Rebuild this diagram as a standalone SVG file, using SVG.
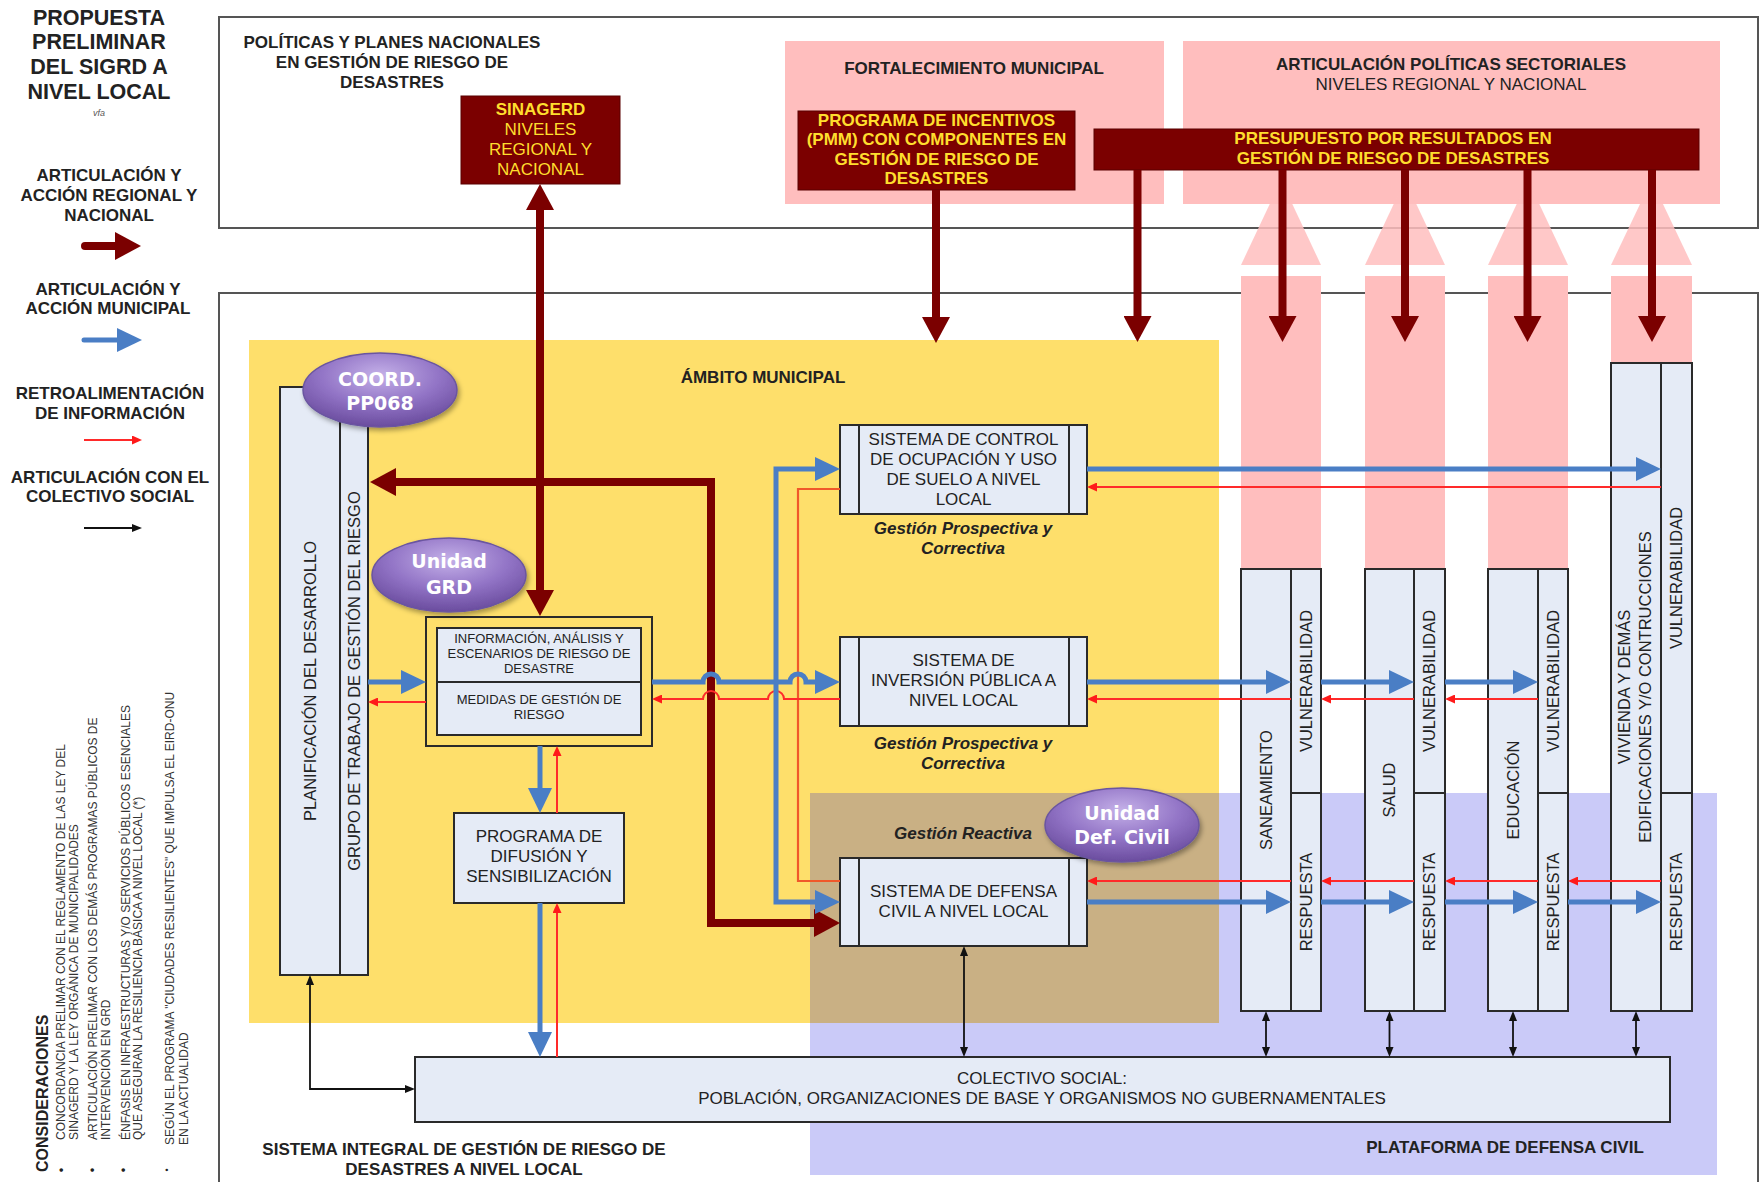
<svg xmlns="http://www.w3.org/2000/svg" width="1761" height="1182" viewBox="0 0 1761 1182">
<style>
.t{font-family:"Liberation Sans",Arial,sans-serif;fill:#222}
.b{font-weight:bold}
.bi{font-weight:bold;font-style:italic}
.c{text-anchor:middle}
.f17{font-size:17px}
.f16{font-size:16.5px}
.f13{font-size:13px}
.f12{font-size:12px}
.yt{fill:#FFDE2E}
.box{fill:#E5EBF6;stroke:#2a2a2a;stroke-width:2}
.ln{stroke:#2a2a2a;stroke-width:2;fill:none}
.drbox{fill:#7B0000;stroke:#5a0000;stroke-width:1}
.pink{fill:#FFBEBE}
.ell{fill:url(#gPur);stroke:#6A55A0;stroke-width:1.5;filter:url(#sh)}
.et{font-family:"DejaVu Sans","Liberation Sans",sans-serif;font-weight:bold;font-size:19px;fill:#fff;text-anchor:middle}
.cdr{stroke:#7B0000;stroke-width:8;fill:none;stroke-linejoin:miter}
.cbl{stroke:#4A7EC5;stroke-width:5;fill:none}
.crd{stroke:#FF2A2A;stroke-width:2;fill:none}
.cor{stroke:#F0582A;stroke-width:2.2;fill:none}
.cbk{stroke:#111;stroke-width:1.8;fill:none}
</style>
<defs>
<radialGradient id="gPur" cx="50%" cy="30%" r="70%">
<stop offset="0" stop-color="#C4B0E8"/>
<stop offset="0.55" stop-color="#9274C6"/>
<stop offset="1" stop-color="#6A4C9E"/>
</radialGradient>
<filter id="sh" x="-20%" y="-20%" width="140%" height="150%">
<feDropShadow dx="2" dy="3" stdDeviation="2.5" flood-color="#000" flood-opacity="0.35"/>
</filter>
<marker id="mDR" markerUnits="userSpaceOnUse" markerWidth="26" markerHeight="28" viewBox="0 0 26 28" refX="4" refY="14" orient="auto-start-reverse"><path d="M0,0 L26,14 L0,28 Z" fill="#7B0000"/></marker>
<marker id="mBL" markerUnits="userSpaceOnUse" markerWidth="25" markerHeight="24" viewBox="0 0 25 24" refX="4" refY="12" orient="auto-start-reverse"><path d="M0,0 L25,12 L0,24 Z" fill="#4A7EC5"/></marker>
<marker id="mRD" markerUnits="userSpaceOnUse" markerWidth="10" markerHeight="9" viewBox="0 0 10 9" refX="2" refY="4.5" orient="auto-start-reverse"><path d="M0,0 L10,4.5 L0,9 Z" fill="#FF1A1A"/></marker>
<marker id="mBK" markerUnits="userSpaceOnUse" markerWidth="10" markerHeight="8" viewBox="0 0 10 8" refX="2" refY="4" orient="auto-start-reverse"><path d="M0,0 L10,4 L0,8 Z" fill="#111"/></marker>
</defs>

<rect width="1761" height="1182" fill="#fff"/>

<!-- title -->
<g id="title" class="t b c">
<text x="99" y="25" font-size="21.5">PROPUESTA</text>
<text x="99" y="49" font-size="21.5">PRELIMINAR</text>
<text x="99" y="74" font-size="21.5">DEL SIGRD A</text>
<text x="99" y="99" font-size="21.5">NIVEL LOCAL</text>
<text x="99" y="116" font-size="9" font-weight="normal" font-style="italic" fill="#555">vfa</text>
</g>

<!-- legend -->
<g id="legend">
<g class="t b c f17">
<text x="109" y="181">ARTICULACIÓN Y</text>
<text x="109" y="201">ACCIÓN REGIONAL Y</text>
<text x="109" y="221">NACIONAL</text>
<text x="108" y="294.5">ARTICULACIÓN Y</text>
<text x="108" y="314">ACCIÓN MUNICIPAL</text>
<text x="110" y="399">RETROALIMENTACIÓN</text>
<text x="110" y="419">DE INFORMACIÓN</text>
<text x="110" y="483">ARTICULACIÓN CON EL</text>
<text x="110" y="502">COLECTIVO SOCIAL</text>
</g>
<path d="M85,246 H119" class="cdr" stroke-width="9" stroke-linecap="round" marker-end="url(#mDR)"/>
<path d="M84,340 H121" class="cbl" stroke-linecap="round" marker-end="url(#mBL)"/>
<path d="M84,440 H134" class="crd" marker-end="url(#mRD)"/>
<path d="M84,528 H134" class="cbk" marker-end="url(#mBK)"/>
</g>

<!-- considerations -->
<g id="consideraciones" class="t">
<text transform="translate(47.5 1172) rotate(-90)" class="b" font-size="16">CONSIDERACIONES</text>
<g class="f12" fill="#333">
<text transform="translate(65 1140) rotate(-90)">CONCORDANCIA PRELIMAR CON EL REGLAMENTO DE LAS LEY DEL</text>
<text transform="translate(78 1140) rotate(-90)">SINAGERD Y LA LEY ORGÁNICA DE MUNICIPALIDADES</text>
<text transform="translate(97 1140) rotate(-90)">ARTICULACIÓN PRELIMAR CON LOS DEMÁS PROGRAMAS PÚBLICOS DE</text>
<text transform="translate(110 1140) rotate(-90)">INTERVENCIÓN EN GRD</text>
<text transform="translate(129.5 1140) rotate(-90)">ÉNFASIS EN INFRAESTRUCTURAS Y/O SERVICIOS PÚBLICOS ESENCIALES</text>
<text transform="translate(142 1140) rotate(-90)">QUE ASEGURAN LA RESILIENCIA BÁSICA A NIVEL LOCAL (*)</text>
<text transform="translate(174 1145) rotate(-90)">SEGÚN EL PROGRAMA "CIUDADES RESILIENTES" QUE IMPULSA EL EIRD-ONU</text>
<text transform="translate(187.5 1145) rotate(-90)">EN LA ACTUALIDAD</text>
</g>
<g font-size="13" fill="#222" class="c">
<text transform="translate(66 1170) rotate(-90)">•</text>
<text transform="translate(97 1170) rotate(-90)">•</text>
<text transform="translate(128 1170) rotate(-90)">•</text>
<text transform="translate(170 1170) rotate(-90)" font-size="9">•</text>
</g>
</g>

<!-- national level frame -->
<g id="n-politicas">
<rect x="219" y="17" width="1539" height="211" fill="#fff" stroke="#555" stroke-width="2"/>
<g class="t b c f17">
<text x="392" y="48">POLÍTICAS Y PLANES NACIONALES</text>
<text x="392" y="68">EN GESTIÓN DE RIESGO DE</text>
<text x="392" y="87.5">DESASTRES</text>
</g>
</g>

<!-- local level frame -->
<g id="n-sistema-local">
<rect x="219" y="293" width="1539" height="910" fill="#fff" stroke="#555" stroke-width="2"/>
<g class="t b c f17">
<text x="464" y="1155">SISTEMA INTEGRAL DE GESTIÓN DE RIESGO DE</text>
<text x="464" y="1175">DESASTRES A NIVEL LOCAL</text>
</g>
</g>

<g id="n-fortalecimiento">
<rect x="785" y="41" width="379" height="163" class="pink"/>
<text x="974" y="74" class="t b c f17">FORTALECIMIENTO MUNICIPAL</text>
</g>

<g id="n-articulacion-sectorial">
<rect x="1183" y="41" width="537" height="163" class="pink"/>
<text x="1451" y="70" class="t b c f17">ARTICULACIÓN POLÍTICAS SECTORIALES</text>
<text x="1451" y="90" class="t c f17">NIVELES REGIONAL Y NACIONAL</text>
</g>

<!-- large pink sector arrows -->
<g id="sector-arrows" fill="#FFBEBE">
<polygon points="1241,265 1321,265 1281,180" fill-opacity="0.85"/>
<polygon points="1365,265 1445,265 1405,180" fill-opacity="0.85"/>
<polygon points="1488,265 1568,265 1528,180" fill-opacity="0.85"/>
<polygon points="1611,265 1692,265 1651.5,180" fill-opacity="0.85"/>
<rect x="1241" y="276" width="80" height="293"/>
<rect x="1365" y="276" width="80" height="293"/>
<rect x="1488" y="276" width="80" height="293"/>
<rect x="1611" y="276" width="81" height="87"/>
</g>

<g id="n-plataforma">
<rect x="810" y="793" width="907" height="382" fill="#CACAF8"/>
<text x="1505" y="1153" class="t b c f17">PLATAFORMA DE DEFENSA CIVIL</text>
</g>

<g id="n-ambito">
<rect x="249" y="340" width="970" height="683" fill="#FEDF6B"/>
<rect x="810" y="793" width="409" height="230" fill="#C9B084"/>
<text x="763" y="383" class="t b c f17">ÁMBITO MUNICIPAL</text>
<text x="963" y="839" class="t bi c f17">Gestión Reactiva</text>
</g>

<g id="n-sinagerd">
<rect x="461" y="96" width="159" height="88" class="drbox"/>
<g class="t c f17">
<text x="540.5" y="115" class="b yt">SINAGERD</text>
<text x="540.5" y="135" class="yt">NIVELES</text>
<text x="540.5" y="155" class="yt">REGIONAL Y</text>
<text x="540.5" y="175" class="yt">NACIONAL</text>
</g>
</g>

<g id="n-pmm">
<rect x="798" y="111" width="277" height="79" class="drbox"/>
<g class="t b c f17 yt">
<text x="936.5" y="125.5" class="yt">PROGRAMA DE INCENTIVOS</text>
<text x="936.5" y="145" class="yt">(PMM) CON COMPONENTES EN</text>
<text x="936.5" y="164.5" class="yt">GESTIÓN DE RIESGO DE</text>
<text x="936.5" y="184" class="yt">DESASTRES</text>
</g>
</g>

<g id="n-presupuesto">
<rect x="1094" y="129" width="605" height="41" class="drbox"/>
<g class="t b c f17">
<text x="1393" y="144" class="yt">PRESUPUESTO POR RESULTADOS EN</text>
<text x="1393" y="164" class="yt">GESTIÓN DE RIESGO DE DESASTRES</text>
</g>
</g>

<g id="n-planificacion">
<rect x="280" y="387" width="88" height="588" class="box"/>
<line x1="340" y1="387" x2="340" y2="975" class="ln"/>
<text transform="translate(310 681) rotate(-90)" dy="0.36em" class="t c f16">PLANIFICACIÓN DEL DESARROLLO</text>
<text transform="translate(354 681) rotate(-90)" dy="0.36em" class="t c f16">GRUPO DE TRABAJO DE GESTIÓN DEL RIESGO</text>
</g>

<g id="n-info">
<rect x="426" y="617" width="226" height="129" fill="none" stroke="#2a2a2a" stroke-width="2"/>
<rect x="437" y="628" width="204" height="107" class="box"/>
<line x1="437" y1="682" x2="641" y2="682" class="ln"/>
<g class="t c f13" fill="#333">
<text x="539" y="643">INFORMACIÓN,  ANÁLISIS Y</text>
<text x="539" y="658">ESCENARIOS DE RIESGO DE</text>
<text x="539" y="673">DESASTRE</text>
<text x="539" y="704">MEDIDAS DE GESTIÓN DE</text>
<text x="539" y="719">RIESGO</text>
</g>
</g>

<g id="n-programa">
<rect x="454" y="813" width="170" height="90" class="box"/>
<g class="t c f17">
<text x="539" y="842">PROGRAMA DE</text>
<text x="539" y="862">DIFUSIÓN Y</text>
<text x="539" y="882">SENSIBILIZACIÓN</text>
</g>
</g>

<g id="n-control">
<rect x="840" y="425" width="247" height="89" class="box"/>
<line x1="859" y1="425" x2="859" y2="514" class="ln"/>
<line x1="1069" y1="425" x2="1069" y2="514" class="ln"/>
<g class="t c f17">
<text x="963.5" y="444.5">SISTEMA DE CONTROL</text>
<text x="963.5" y="464.5">DE OCUPACIÓN Y USO</text>
<text x="963.5" y="484.5">DE SUELO A NIVEL</text>
<text x="963.5" y="504.5">LOCAL</text>
</g>
<text x="963" y="534" class="t bi c f17">Gestión Prospectiva y</text>
<text x="963" y="554" class="t bi c f17">Correctiva</text>
</g>

<g id="n-inversion">
<rect x="840" y="637" width="247" height="89" class="box"/>
<line x1="859" y1="637" x2="859" y2="726" class="ln"/>
<line x1="1069" y1="637" x2="1069" y2="726" class="ln"/>
<g class="t c f17">
<text x="963.5" y="666">SISTEMA DE</text>
<text x="963.5" y="686">INVERSIÓN PÚBLICA A</text>
<text x="963.5" y="706">NIVEL LOCAL</text>
</g>
<text x="963" y="749" class="t bi c f17">Gestión Prospectiva y</text>
<text x="963" y="769" class="t bi c f17">Correctiva</text>
</g>

<g id="n-defensa">
<rect x="840" y="858" width="247" height="88" class="box"/>
<line x1="859" y1="858" x2="859" y2="946" class="ln"/>
<line x1="1069" y1="858" x2="1069" y2="946" class="ln"/>
<g class="t c f17">
<text x="963.5" y="897">SISTEMA DE DEFENSA</text>
<text x="963.5" y="917">CIVIL A NIVEL LOCAL</text>
</g>
</g>

<g id="n-saneamiento">
<rect x="1241" y="569" width="80" height="442" class="box"/>
<line x1="1291" y1="569" x2="1291" y2="1011" class="ln"/>
<line x1="1291" y1="793" x2="1321" y2="793" class="ln"/>
<text transform="translate(1266 790) rotate(-90)" dy="0.36em" class="t c f16">SANEAMIENTO</text>
<text transform="translate(1306 681) rotate(-90)" dy="0.36em" class="t c f16">VULNERABILIDAD</text>
<text transform="translate(1306 902) rotate(-90)" dy="0.36em" class="t c f16">RESPUESTA</text>
</g>

<g id="n-salud">
<rect x="1365" y="569" width="80" height="442" class="box"/>
<line x1="1414" y1="569" x2="1414" y2="1011" class="ln"/>
<line x1="1414" y1="793" x2="1445" y2="793" class="ln"/>
<text transform="translate(1389.5 790) rotate(-90)" dy="0.36em" class="t c f16">SALUD</text>
<text transform="translate(1429.5 681) rotate(-90)" dy="0.36em" class="t c f16">VULNERABILIDAD</text>
<text transform="translate(1429.5 902) rotate(-90)" dy="0.36em" class="t c f16">RESPUESTA</text>
</g>

<g id="n-educacion">
<rect x="1488" y="569" width="80" height="442" class="box"/>
<line x1="1538" y1="569" x2="1538" y2="1011" class="ln"/>
<line x1="1538" y1="793" x2="1568" y2="793" class="ln"/>
<text transform="translate(1513 790) rotate(-90)" dy="0.36em" class="t c f16">EDUCACIÓN</text>
<text transform="translate(1553 681) rotate(-90)" dy="0.36em" class="t c f16">VULNERABILIDAD</text>
<text transform="translate(1553 902) rotate(-90)" dy="0.36em" class="t c f16">RESPUESTA</text>
</g>

<g id="n-vivienda">
<rect x="1611" y="363" width="81" height="648" class="box"/>
<line x1="1661" y1="363" x2="1661" y2="1011" class="ln"/>
<line x1="1661" y1="793" x2="1692" y2="793" class="ln"/>
<text transform="translate(1629.5 687) rotate(-90)" class="t c f16">VIVIENDA Y DEMÁS</text>
<text transform="translate(1651 687) rotate(-90)" class="t c f16">EDIFICACIONES Y/O CONTRUCCIONES</text>
<text transform="translate(1676.5 578) rotate(-90)" dy="0.36em" class="t c f16">VULNERABILIDAD</text>
<text transform="translate(1676.5 902) rotate(-90)" dy="0.36em" class="t c f16">RESPUESTA</text>
</g>

<g id="n-colectivo">
<rect x="415" y="1057" width="1255" height="65" class="box"/>
<g class="t c f17">
<text x="1042" y="1084">COLECTIVO SOCIAL:</text>
<text x="1042" y="1104">POBLACIÓN, ORGANIZACIONES DE BASE Y ORGANISMOS NO GUBERNAMENTALES</text>
</g>
</g>

<!-- connectors -->
<g id="connectors">
<!-- national / regional (dark red) -->
<path d="M540,206 V594" class="cdr" marker-start="url(#mDR)" marker-end="url(#mDR)"/>
<path d="M818,923 H711 V482 H392" class="cdr" marker-start="url(#mDR)" marker-end="url(#mDR)"/>
<path d="M936,190 V321" class="cdr" marker-end="url(#mDR)"/>
<path d="M1137.5,170 V320" class="cdr" marker-end="url(#mDR)"/>
<path d="M1282.5,170 V320" class="cdr" marker-end="url(#mDR)"/>
<path d="M1405,170 V320" class="cdr" marker-end="url(#mDR)"/>
<path d="M1527.5,170 V320" class="cdr" marker-end="url(#mDR)"/>
<path d="M1652,170 V320" class="cdr" marker-end="url(#mDR)"/>

<!-- feedback (red / orange) -->
<path d="M840,489 H798 V881 H840" class="cor"/>
<path d="M840,699 H784 A8,8 0 0 0 768,699 H719 A8,8 0 0 0 703,699 H660" class="crd" marker-end="url(#mRD)"/>
<path d="M426,702 H376" class="crd" marker-end="url(#mRD)"/>
<path d="M557,813 V754" class="crd" marker-end="url(#mRD)"/>
<path d="M557,1057 V911" class="crd" marker-end="url(#mRD)"/>
<path d="M1661,487 H1095" class="crd" marker-end="url(#mRD)"/>
<path d="M1291,699 H1095" class="crd" marker-end="url(#mRD)"/>
<path d="M1414,699 H1329" class="crd" marker-end="url(#mRD)"/>
<path d="M1538,699 H1453" class="crd" marker-end="url(#mRD)"/>
<path d="M1291,881 H1095" class="crd" marker-end="url(#mRD)"/>
<path d="M1414,881 H1329" class="crd" marker-end="url(#mRD)"/>
<path d="M1538,881 H1453" class="crd" marker-end="url(#mRD)"/>
<path d="M1661,881 H1576" class="crd" marker-end="url(#mRD)"/>

<!-- municipal (blue) -->
<path d="M368,682 H405" class="cbl" marker-end="url(#mBL)"/>
<path d="M652,682 H703 A8,8 0 0 1 719,682 H790 A8,8 0 0 1 806,682 H819" class="cbl" marker-end="url(#mBL)"/>
<path d="M819,469 H776 V902 H819" class="cbl" marker-start="url(#mBL)" marker-end="url(#mBL)"/>
<path d="M540,746 V792" class="cbl" marker-end="url(#mBL)"/>
<path d="M540,903 V1036" class="cbl" marker-end="url(#mBL)"/>
<path d="M1087,469 H1640" class="cbl" marker-end="url(#mBL)"/>
<path d="M1087,682 H1270" class="cbl" marker-end="url(#mBL)"/>
<path d="M1321,682 H1393" class="cbl" marker-end="url(#mBL)"/>
<path d="M1445,682 H1517" class="cbl" marker-end="url(#mBL)"/>
<path d="M1087,902 H1270" class="cbl" marker-end="url(#mBL)"/>
<path d="M1321,902 H1393" class="cbl" marker-end="url(#mBL)"/>
<path d="M1445,902 H1517" class="cbl" marker-end="url(#mBL)"/>
<path d="M1568,902 H1640" class="cbl" marker-end="url(#mBL)"/>

<!-- collective (black) -->
<path d="M310,983 V1089 H407" class="cbk" marker-start="url(#mBK)" marker-end="url(#mBK)"/>
<path d="M964,954 V1049" class="cbk" marker-start="url(#mBK)" marker-end="url(#mBK)"/>
<path d="M1266,1019 V1049" class="cbk" marker-start="url(#mBK)" marker-end="url(#mBK)"/>
<path d="M1389.5,1019 V1049" class="cbk" marker-start="url(#mBK)" marker-end="url(#mBK)"/>
<path d="M1513,1019 V1049" class="cbk" marker-start="url(#mBK)" marker-end="url(#mBK)"/>
<path d="M1636,1019 V1049" class="cbk" marker-start="url(#mBK)" marker-end="url(#mBK)"/>
</g>

<!-- role ellipses -->
<g id="n-coord">
<ellipse cx="380" cy="390" rx="77" ry="37" class="ell"/>
<text x="380" y="386" class="et">COORD.</text>
<text x="380" y="410" class="et">PP068</text>
</g>
<g id="n-unidad-grd">
<ellipse cx="449" cy="575" rx="77" ry="37" class="ell"/>
<text x="449" y="568" class="et">Unidad</text>
<text x="449" y="594" class="et">GRD</text>
</g>
<g id="n-unidad-defcivil">
<ellipse cx="1122" cy="825" rx="77" ry="37" class="ell"/>
<text x="1122" y="820" class="et">Unidad</text>
<text x="1122" y="844" class="et">Def. Civil</text>
</g>
</svg>
